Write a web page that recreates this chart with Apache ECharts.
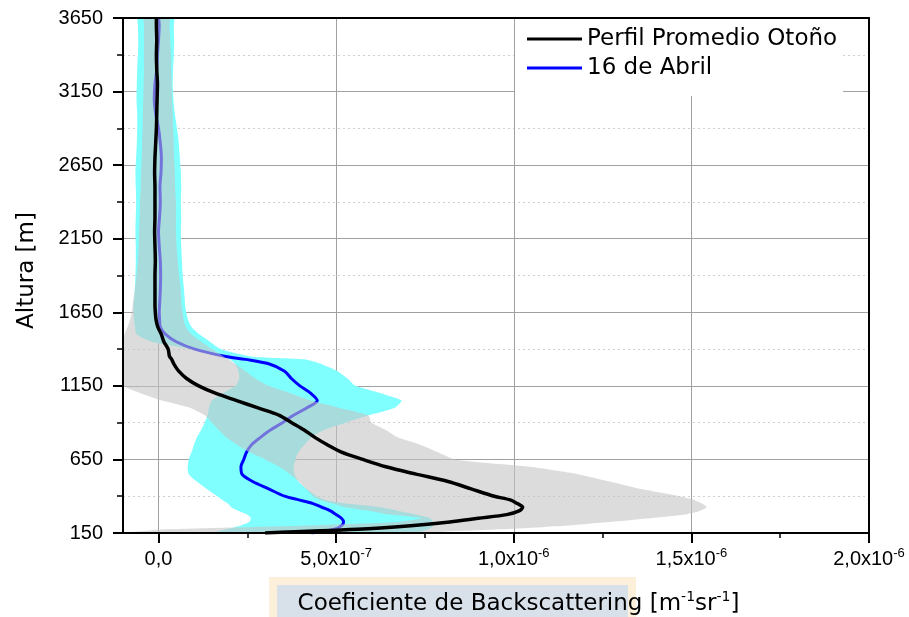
<!DOCTYPE html>
<html>
<head>
<meta charset="utf-8">
<script src="https://cdn.jsdelivr.net/npm/echarts@6/dist/echarts.min.js"></script>
<style>html,body{margin:0;padding:0;background:#fff}#c{width:909px;height:617px}</style>
</head>
<body>
<div id="c"></div>
<script>
// Altura [m]
const heights = [150,175,200,225,250,275,300,325,350,375,
  400,450,500,550,600,650,700,750,800,850,
  900,950,1000,1050,1100,1150,1200,1250,1300,1330,
  1350,1400,1450,1500,1550,1600,1650,1700,1800,1900,
  2000,2100,2200,2300,2400,2500,2600,2700,2800,2900,
  3000,3100,3200,3300,3400,3500,3600,3650];

// values in units of 1e-7 m^-1 sr^-1
const autumnMean = [3.0,5.6,7.1,8.2,9.0,9.8,10.15,10.25,10.1,9.9,
  9.45,8.8,8.15,7.25,6.4,5.75,5.15,4.75,4.4,4.1,
  3.75,3.4,2.8,2.2,1.6,1.13,0.79,0.57,0.43,0.37,
  0.31,0.27,0.15,0.08,-0.02,-0.07,-0.09,-0.1,-0.1,-0.1,
  -0.09,-0.1,-0.11,-0.1,-0.1,-0.1,-0.11,-0.1,-0.08,-0.06,
  -0.05,-0.04,-0.03,-0.05,-0.06,-0.05,-0.06,-0.06];

const autumnLow = [-0.9,0.2,4.0,6.7,7.4,6.5,5.95,5.25,4.9,4.55,
  4.35,4.15,3.95,3.7,3.4,3.0,2.55,2.2,1.9,1.7,
  1.5,1.3,0.9,0.1,-0.5,-1.3,-1.4,-1.45,-1.4,-1.35,
  -1.3,-1.25,-1.15,-0.96,-0.87,-0.8,-0.75,-0.73,-0.67,-0.62,
  -0.58,-0.56,-0.55,-0.53,-0.52,-0.5,-0.49,-0.47,-0.46,-0.45,
  -0.44,-0.43,-0.42,-0.41,-0.41,-0.41,-0.41,-0.41];

const autumnHigh = [6.8,9.6,11.45,12.7,13.85,14.8,15.23,15.43,15.3,15.08,
  14.67,13.55,12.7,11.8,10.45,8.35,7.85,7.37,6.73,6.4,
  6.0,5.9,5.1,4.3,3.72,3.1,2.73,2.45,2.15,1.97,
  1.83,1.5,1.2,0.93,0.77,0.71,0.68,0.65,0.63,0.58,
  0.54,0.51,0.49,0.49,0.49,0.47,0.46,0.44,0.43,0.41,
  0.4,0.38,0.37,0.36,0.35,0.33,0.31,0.3];

const april16 = [4.3,4.95,5.15,5.21,5.15,5.0,4.84,4.6,4.35,3.95,
  3.55,3.1,2.65,2.35,2.32,2.4,2.48,2.62,2.87,3.15,
  3.49,3.8,4.17,4.47,4.28,3.98,3.74,3.55,3.1,2.45,
  1.89,1.02,0.5,0.2,0.05,0.03,0.02,0.03,0.05,0.06,
  0.05,0.02,0.0,0.03,0.05,0.04,0.07,0.08,0.05,0.0,
  -0.08,-0.12,-0.1,-0.05,-0.03,0.0,0.02,0.0];

const april16Low = [1.55,1.9,2.3,2.55,2.6,2.5,2.25,2.05,1.95,1.8,
  1.65,1.35,1.08,0.85,0.82,0.85,0.93,1.0,1.08,1.2,
  1.3,1.38,1.42,1.5,1.81,2.17,2.27,2.25,2.15,2.0,
  1.8,0.9,-0.2,-0.62,-0.66,-0.69,-0.7,-0.7,-0.67,-0.65,
  -0.64,-0.64,-0.65,-0.64,-0.63,-0.64,-0.65,-0.63,-0.61,-0.6,
  -0.6,-0.62,-0.61,-0.6,-0.58,-0.57,-0.58,-0.58];

const april16High = [7.2,7.6,7.73,7.73,7.65,7.25,6.75,6.25,5.3,4.7,
  4.45,4.17,3.94,3.83,3.8,3.86,3.94,4.11,4.31,4.65,
  5.26,5.91,6.64,6.84,6.25,5.54,5.32,5.04,4.56,4.1,
  2.6,1.75,1.45,1.15,0.93,0.83,0.78,0.75,0.72,0.68,
  0.66,0.64,0.63,0.64,0.63,0.64,0.63,0.6,0.57,0.52,
  0.46,0.42,0.4,0.41,0.43,0.44,0.43,0.43];

const xTickValues = [0, 5, 10, 15, 20];
const xTickLabels = ['0,0', '5,0x10{sup|-7}', '1,0x10{sup|-6}', '1,5x10{sup|-6}', '2,0x10{sup|-6}'];
const xMinorTickValues = [2.5, 7.5, 12.5, 17.5];
const seriesNames = ['Perfil Promedio Otoño', '16 de Abril'];

const X_MIN = -1, X_MAX = 20, Y_MIN = 150, Y_MAX = 3650, Y_STEP = 500;

const FONT_TICK = 'Liberation Sans';
const FONT_TITLE = 'DejaVu Sans';

function bandSeries(low, high, fill, z) {
  return {
    type: 'custom',
    coordinateSystem: 'cartesian2d',
    xAxisIndex: 0, yAxisIndex: 0,
    silent: true,
    clip: true,
    z: z,
    data: [[low[0], heights[0]]],
    encode: { x: 0, y: 1 },
    renderItem: function (params, api) {
      const pts = [];
      for (let i = 0; i < heights.length; i++) {
        pts.push(api.coord([Math.max(low[i], X_MIN), heights[i]]));
      }
      for (let i = heights.length - 1; i >= 0; i--) {
        pts.push(api.coord([Math.min(high[i], X_MAX), heights[i]]));
      }
      return { type: 'polygon', shape: { points: pts, smooth: 0.2 }, style: { fill: fill } };
    }
  };
}

function lineSeries(name, values, color, width, z) {
  return {
    type: 'line', name: name,
    xAxisIndex: 0, yAxisIndex: 0,
    z: z,
    data: heights.map((h, i) => [values[i], h]),
    showSymbol: false, symbol: 'none', smooth: 0.3, clip: true,
    color: color,
    itemStyle: { color: color },
    lineStyle: { color: color, width: width }
  };
}

const frameLine = { show: true, onZero: false, lineStyle: { color: '#000', width: 2 } };
const supStyle = { fontFamily: FONT_TICK, fontSize: 13, lineHeight: 13, verticalAlign: 'top', color: '#000' };

const chart = echarts.init(document.getElementById('c'), null, { renderer: 'canvas' });
chart.setOption({
  animation: false,
  backgroundColor: '#ffffff',
  grid: { left: 123, right: 40, top: 18, bottom: 84, containLabel: false, outerBoundsMode: 'none' },
  graphic: [
    { type: 'rect', z: -5, silent: true, shape: { x: 269, y: 577, width: 367, height: 40 }, style: { fill: '#fcf0db' } },
    { type: 'rect', z: -4, silent: true, shape: { x: 277, y: 585, width: 351, height: 32 }, style: { fill: '#d8e0ea' } }
  ],
  legend: {
    orient: 'vertical', left: 515, top: 19,
    padding: [7, 6, 15, 12],
    backgroundColor: '#ffffff',
    icon: 'rect', itemWidth: 55, itemHeight: 3, itemGap: 3, itemTextGap: 12,
    textStyle: { fontFamily: FONT_TITLE, fontSize: 23, lineHeight: 26, color: '#000' },
    data: seriesNames
  },
  xAxis: [
    {
      type: 'value', min: X_MIN, max: X_MAX, position: 'bottom', z: 0,
      axisLine: { show: false, onZero: false },
      axisTick: { show: true, customValues: xTickValues, length: 10, lineStyle: { color: '#000', width: 2 } },
      axisLabel: {
        show: true, customValues: xTickValues, margin: 14, color: '#000',
        fontFamily: FONT_TICK, fontSize: 20, lineHeight: 24,
        formatter: function (v) { const k = xTickValues.indexOf(v); return k >= 0 ? xTickLabels[k] : ''; },
        rich: { sup: supStyle }
      },
      splitLine: { show: true, lineStyle: { color: '#a0a0a0', width: 1 } },
      name: 'Coeficiente de Backscattering [m{sup|-1}sr{sup|-1}]',
      nameLocation: 'middle', nameGap: 57,
      nameTextStyle: {
        fontFamily: FONT_TITLE, fontSize: 23, lineHeight: 28, color: '#000', padding: [0, 0, 0, 45],
        rich: { sup: { fontFamily: FONT_TITLE, fontSize: 14, lineHeight: 14, verticalAlign: 'top', color: '#000' } }
      }
    },
    {
      type: 'value', min: X_MIN, max: X_MAX, position: 'bottom', z: 10,
      axisLine: frameLine,
      axisTick: { show: true, customValues: xMinorTickValues, length: 5, lineStyle: { color: '#000', width: 1.5 } },
      axisLabel: { show: false }, splitLine: { show: false }
    },
    {
      type: 'value', min: X_MIN, max: X_MAX, position: 'top', z: 10,
      axisLine: frameLine, axisTick: { show: false }, axisLabel: { show: false }, splitLine: { show: false }
    }
  ],
  yAxis: [
    {
      type: 'value', min: Y_MIN, max: Y_MAX, interval: Y_STEP, position: 'left', z: 0,
      axisLine: { show: false, onZero: false },
      axisTick: { show: true, length: 10, lineStyle: { color: '#000', width: 2 } },
      minorTick: { show: true, splitNumber: 2, length: 6, lineStyle: { color: '#000', width: 1.5 } },
      axisLabel: {
        show: true, margin: 20, color: '#000', fontFamily: FONT_TICK, fontSize: 20,
        formatter: function (v) { return String(v); }
      },
      splitLine: { show: true, lineStyle: { color: '#a0a0a0', width: 1 } },
      minorSplitLine: { show: true, lineStyle: { color: '#cfcfcf', width: 1, type: [2, 3] } },
      name: 'Altura [m]', nameLocation: 'middle', nameRotate: 90, nameGap: 83,
      nameTextStyle: { fontFamily: FONT_TITLE, fontSize: 23, lineHeight: 26, color: '#000', padding: [0, 0, 0, 10] }
    },
    {
      type: 'value', min: Y_MIN, max: Y_MAX, position: 'left', z: 10,
      axisLine: frameLine, axisTick: { show: false }, axisLabel: { show: false }, splitLine: { show: false }
    },
    {
      type: 'value', min: Y_MIN, max: Y_MAX, position: 'right', z: 10,
      axisLine: frameLine, axisTick: { show: false }, axisLabel: { show: false }, splitLine: { show: false }
    }
  ],
  series: [
    bandSeries(april16Low, april16High, '#80ffff', 1),
    lineSeries(seriesNames[1], april16, '#0000ff', 3, 2),
    bandSeries(autumnLow, autumnHigh, 'rgba(196,196,196,0.59)', 3),
    lineSeries(seriesNames[0], autumnMean, '#000000', 3.5, 4)
  ]
});
</script>
</body>
</html>
